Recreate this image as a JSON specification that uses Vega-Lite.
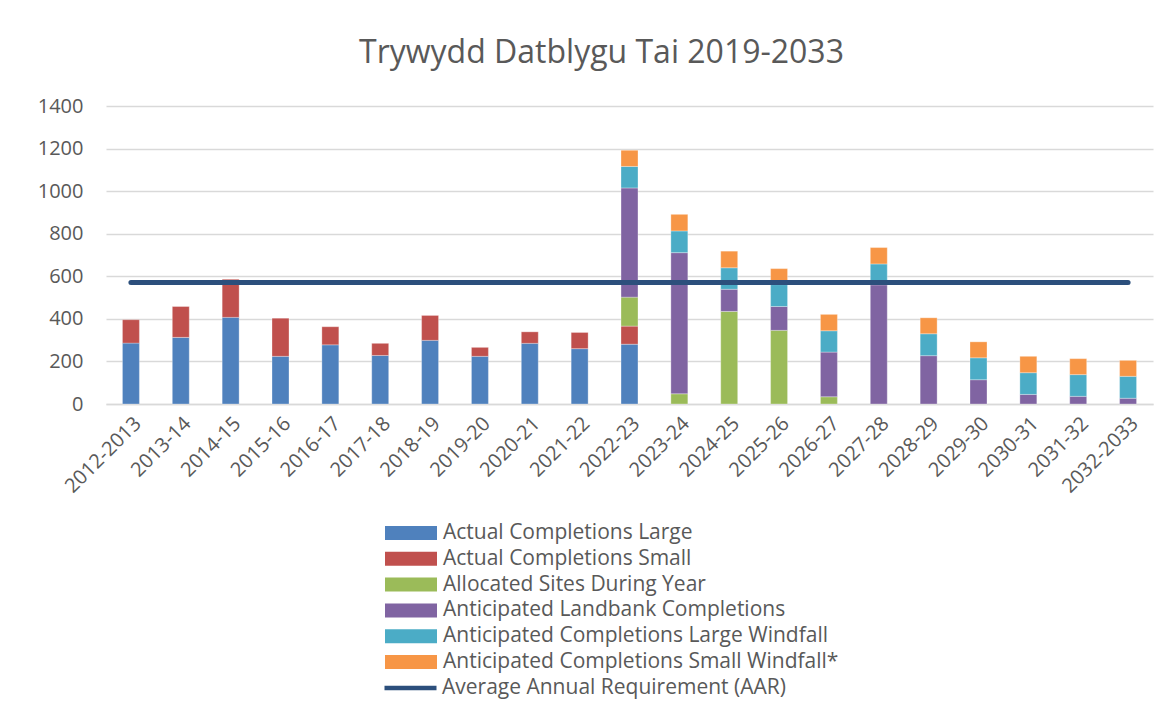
{
  "$schema": "https://vega.github.io/schema/vega-lite/v6.json",
  "autosize": {"type": "none"},
  "width": 1047,
  "height": 298,
  "padding": {"left": 106, "top": 106, "right": 16, "bottom": 319},
  "background": "#ffffff",
  "title": {
    "text": "Trywydd Datblygu Tai 2019-2033",
    "font": "Open Sans",
    "fontSize": 32,
    "fontWeight": "normal",
    "color": "#595959",
    "anchor": "middle",
    "dx": -28,
    "offset": 26
  },
  "datasets": {
    "bars": [
      {"year": "2012-2013", "series": "Actual Completions Large", "value": 286},
      {"year": "2012-2013", "series": "Actual Completions Small", "value": 110},
      {"year": "2013-14", "series": "Actual Completions Large", "value": 313},
      {"year": "2013-14", "series": "Actual Completions Small", "value": 145},
      {"year": "2014-15", "series": "Actual Completions Large", "value": 407},
      {"year": "2014-15", "series": "Actual Completions Small", "value": 179},
      {"year": "2015-16", "series": "Actual Completions Large", "value": 224},
      {"year": "2015-16", "series": "Actual Completions Small", "value": 179},
      {"year": "2016-17", "series": "Actual Completions Large", "value": 278},
      {"year": "2016-17", "series": "Actual Completions Small", "value": 85},
      {"year": "2017-18", "series": "Actual Completions Large", "value": 228},
      {"year": "2017-18", "series": "Actual Completions Small", "value": 57},
      {"year": "2018-19", "series": "Actual Completions Large", "value": 299},
      {"year": "2018-19", "series": "Actual Completions Small", "value": 117},
      {"year": "2019-20", "series": "Actual Completions Large", "value": 224},
      {"year": "2019-20", "series": "Actual Completions Small", "value": 42},
      {"year": "2020-21", "series": "Actual Completions Large", "value": 285},
      {"year": "2020-21", "series": "Actual Completions Small", "value": 54},
      {"year": "2021-22", "series": "Actual Completions Large", "value": 260},
      {"year": "2021-22", "series": "Actual Completions Small", "value": 76},
      {"year": "2022-23", "series": "Actual Completions Large", "value": 281},
      {"year": "2022-23", "series": "Actual Completions Small", "value": 85},
      {"year": "2022-23", "series": "Allocated Sites During Year", "value": 136},
      {"year": "2022-23", "series": "Anticipated Landbank Completions", "value": 513},
      {"year": "2022-23", "series": "Anticipated Completions Large Windfall", "value": 101},
      {"year": "2022-23", "series": "Anticipated Completions Small Windfall*", "value": 76},
      {"year": "2023-24", "series": "Allocated Sites During Year", "value": 48},
      {"year": "2023-24", "series": "Anticipated Landbank Completions", "value": 663},
      {"year": "2023-24", "series": "Anticipated Completions Large Windfall", "value": 102},
      {"year": "2023-24", "series": "Anticipated Completions Small Windfall*", "value": 78},
      {"year": "2024-25", "series": "Allocated Sites During Year", "value": 435},
      {"year": "2024-25", "series": "Anticipated Landbank Completions", "value": 104},
      {"year": "2024-25", "series": "Anticipated Completions Large Windfall", "value": 101},
      {"year": "2024-25", "series": "Anticipated Completions Small Windfall*", "value": 78},
      {"year": "2025-26", "series": "Allocated Sites During Year", "value": 346},
      {"year": "2025-26", "series": "Anticipated Landbank Completions", "value": 112},
      {"year": "2025-26", "series": "Anticipated Completions Large Windfall", "value": 103},
      {"year": "2025-26", "series": "Anticipated Completions Small Windfall*", "value": 75},
      {"year": "2026-27", "series": "Allocated Sites During Year", "value": 34},
      {"year": "2026-27", "series": "Anticipated Landbank Completions", "value": 210},
      {"year": "2026-27", "series": "Anticipated Completions Large Windfall", "value": 100},
      {"year": "2026-27", "series": "Anticipated Completions Small Windfall*", "value": 77},
      {"year": "2027-28", "series": "Anticipated Landbank Completions", "value": 560},
      {"year": "2027-28", "series": "Anticipated Completions Large Windfall", "value": 98},
      {"year": "2027-28", "series": "Anticipated Completions Small Windfall*", "value": 77},
      {"year": "2028-29", "series": "Anticipated Landbank Completions", "value": 227},
      {"year": "2028-29", "series": "Anticipated Completions Large Windfall", "value": 103},
      {"year": "2028-29", "series": "Anticipated Completions Small Windfall*", "value": 75},
      {"year": "2029-30", "series": "Anticipated Landbank Completions", "value": 114},
      {"year": "2029-30", "series": "Anticipated Completions Large Windfall", "value": 103},
      {"year": "2029-30", "series": "Anticipated Completions Small Windfall*", "value": 75},
      {"year": "2030-31", "series": "Anticipated Landbank Completions", "value": 45},
      {"year": "2030-31", "series": "Anticipated Completions Large Windfall", "value": 102},
      {"year": "2030-31", "series": "Anticipated Completions Small Windfall*", "value": 77},
      {"year": "2031-32", "series": "Anticipated Landbank Completions", "value": 36},
      {"year": "2031-32", "series": "Anticipated Completions Large Windfall", "value": 102},
      {"year": "2031-32", "series": "Anticipated Completions Small Windfall*", "value": 75},
      {"year": "2032-2033", "series": "Anticipated Landbank Completions", "value": 27},
      {"year": "2032-2033", "series": "Anticipated Completions Large Windfall", "value": 103},
      {"year": "2032-2033", "series": "Anticipated Completions Small Windfall*", "value": 75}
    ],
    "aar": [
      {"year": "2012-2013", "aar": 571},
      {"year": "2013-14", "aar": 571},
      {"year": "2014-15", "aar": 571},
      {"year": "2015-16", "aar": 571},
      {"year": "2016-17", "aar": 571},
      {"year": "2017-18", "aar": 571},
      {"year": "2018-19", "aar": 571},
      {"year": "2019-20", "aar": 571},
      {"year": "2020-21", "aar": 571},
      {"year": "2021-22", "aar": 571},
      {"year": "2022-23", "aar": 571},
      {"year": "2023-24", "aar": 571},
      {"year": "2024-25", "aar": 571},
      {"year": "2025-26", "aar": 571},
      {"year": "2026-27", "aar": 571},
      {"year": "2027-28", "aar": 571},
      {"year": "2028-29", "aar": 571},
      {"year": "2029-30", "aar": 571},
      {"year": "2030-31", "aar": 571},
      {"year": "2031-32", "aar": 571},
      {"year": "2032-2033", "aar": 571}
    ]
  },
  "encoding": {
    "x": {
      "field": "year",
      "type": "nominal",
      "sort": null,
      "title": null,
      "scale": {"paddingInner": 0.66, "paddingOuter": 0.33},
      "axis": {
        "labelAngle": -45,
        "labelFont": "Open Sans",
        "labelFontSize": 20,
        "labelColor": "#595959",
        "labelPadding": 9,
        "ticks": false,
        "domainColor": "#d9d9d9",
        "domainWidth": 1.5,
        "grid": false
      }
    }
  },
  "layer": [
    {
      "data": {"name": "bars"},
      "transform": [
        {"calculate": "indexof(['Actual Completions Large','Actual Completions Small','Allocated Sites During Year','Anticipated Landbank Completions','Anticipated Completions Large Windfall','Anticipated Completions Small Windfall*'], datum.series)", "as": "stackOrder"}
      ],
      "mark": {"type": "bar", "stroke": "#ffffff", "strokeWidth": 0.6, "strokeOpacity": 0.5},
      "encoding": {
        "y": {
          "field": "value",
          "type": "quantitative",
          "aggregate": "sum",
          "stack": "zero",
          "title": null,
          "scale": {"domain": [0, 1400], "nice": false},
          "axis": {
            "values": [0, 200, 400, 600, 800, 1000, 1200, 1400],
            "format": "d",
            "labelFont": "Open Sans",
            "labelFontSize": 20,
            "labelColor": "#595959",
            "labelPadding": 23,
            "ticks": false,
            "domain": false,
            "gridColor": "#d9d9d9",
            "gridWidth": 1.5
          }
        },
        "order": {"field": "stackOrder", "type": "quantitative", "sort": "ascending"},
        "color": {
          "field": "series",
          "type": "nominal",
          "scale": {
            "domain": [
              "Actual Completions Large",
              "Actual Completions Small",
              "Allocated Sites During Year",
              "Anticipated Landbank Completions",
              "Anticipated Completions Large Windfall",
              "Anticipated Completions Small Windfall*"
            ],
            "range": ["#4F81BD", "#C0504D", "#9BBB59", "#8064A2", "#4BACC6", "#F79646"]
          },
          "legend": {
            "orient": "none",
            "legendX": 279,
            "legendY": 417,
            "direction": "vertical",
            "title": null,
            "symbolType": "M-1,-0.27H1V0.27H-1Z",
            "symbolSize": 2704,
            "symbolStrokeWidth": 0,
            "symbolOpacity": 1
          }
        }
      }
    },
    {
      "data": {"name": "aar"},
      "mark": {"type": "line", "strokeWidth": 5, "strokeCap": "round"},
      "encoding": {
        "y": {"field": "aar", "type": "quantitative"},
        "stroke": {
          "datum": "Average Annual Requirement (AAR)",
          "scale": {"domain": ["Average Annual Requirement (AAR)"], "range": ["#2C4F7C"]},
          "legend": {
            "orient": "none",
            "legendX": 276,
            "legendY": 572,
            "direction": "vertical",
            "title": null,
            "symbolType": "stroke",
            "symbolSize": 2704,
            "symbolStrokeWidth": 4.5,
            "symbolOpacity": 1,
            "labelOffset": 3
          }
        }
      }
    }
  ],
  "config": {
    "view": {"stroke": null},
    "legend": {
      "padding": 0,
      "labelFont": "Open Sans",
      "labelFontSize": 21,
      "labelColor": "#595959",
      "labelLimit": 0,
      "labelOffset": 6,
      "rowPadding": 4.8,
      "clipHeight": 20
    }
  }
}
